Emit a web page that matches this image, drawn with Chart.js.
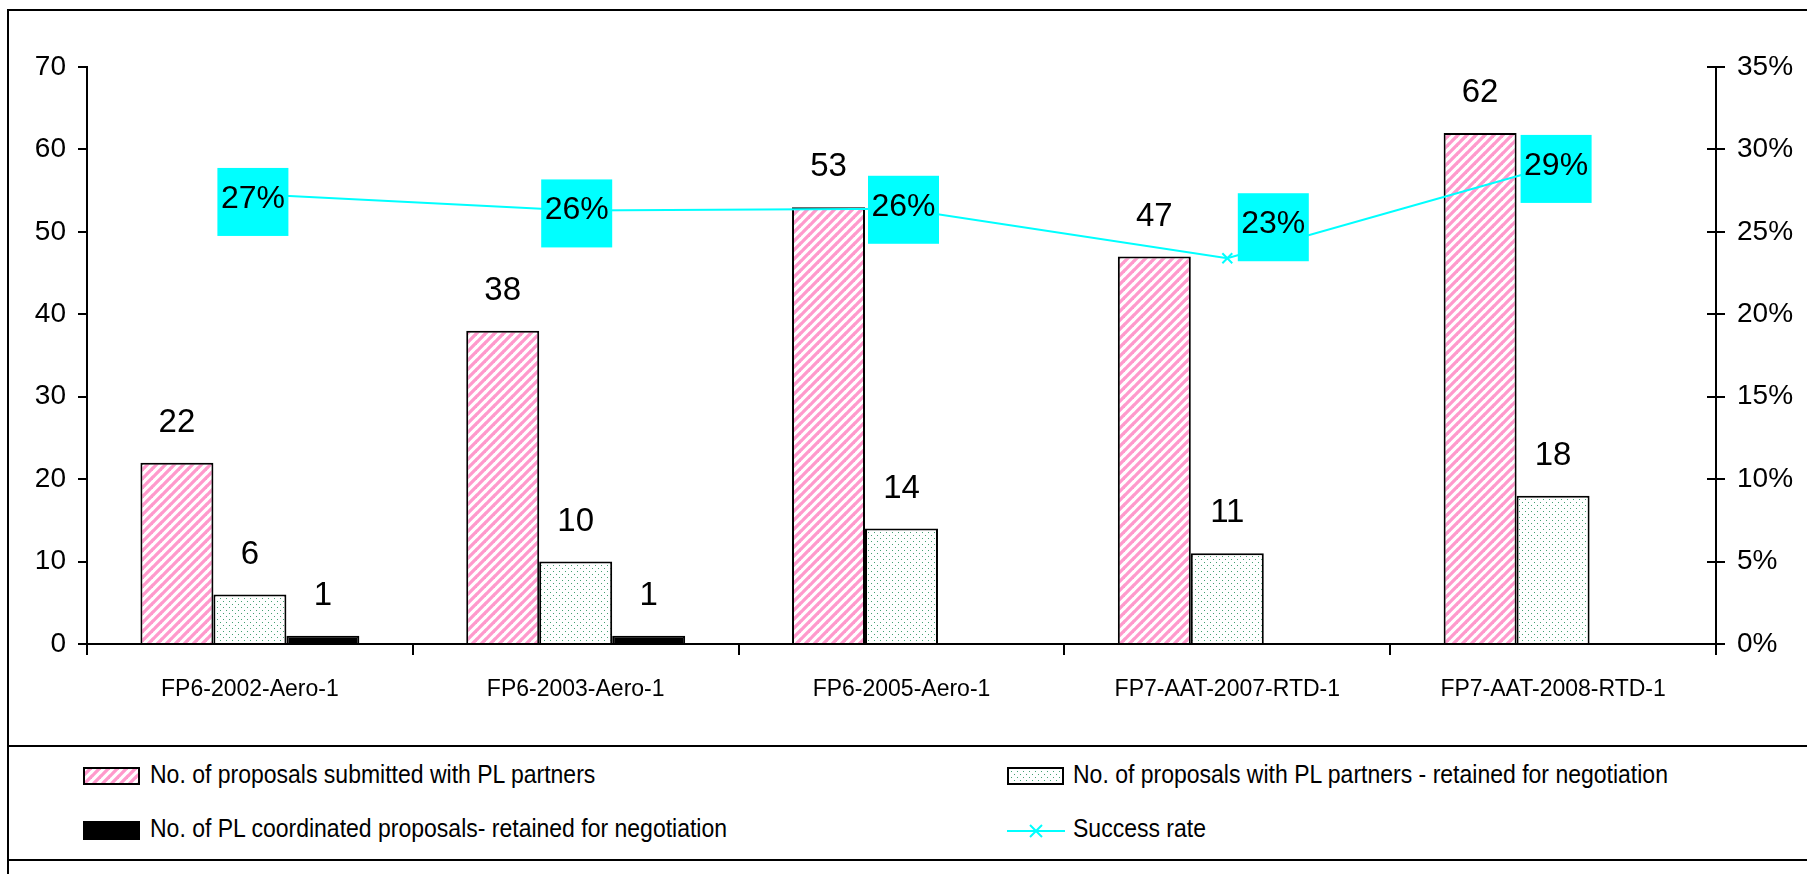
<!DOCTYPE html>
<html>
<head>
<meta charset="utf-8">
<script src="https://cdn.jsdelivr.net/npm/chart.js@4.4.1/dist/chart.umd.min.js"></script>
<style>
  body { margin: 0; background: #fff; font-family: "Liberation Sans", Arial, sans-serif; }
  #wrap { position: relative; width: 1807px; height: 874px; overflow: hidden; }
  #chart { position: absolute; left: 0; top: 0; }
  .rule { position: absolute; background: #000; }
  .swatch { position: absolute; }
  .txt { position: absolute; font-size: 25px; line-height: 28px; color: #000; white-space: nowrap;
         transform: scaleX(0.92); transform-origin: left center; }
</style>
</head>
<body>
<div id="wrap">
  <canvas id="chart" width="1807" height="746"></canvas>

  <div class="rule" style="left:7px; top:9px; width:2px; height:865px;"></div>
  <div class="rule" style="left:7px; top:9px; width:1800px; height:2px;"></div>
  <div class="rule" style="left:7px; top:745px; width:1800px; height:2px;"></div>
  <div class="rule" style="left:7px; top:859px; width:1800px; height:2px;"></div>

  <canvas class="swatch" id="sw0" width="57" height="18" style="left:83px; top:767px;"></canvas>
  <div class="txt" id="lg0" style="left:150px; top:760px;"></div>
  <canvas class="swatch" id="sw1" width="57" height="18" style="left:1007px; top:767px;"></canvas>
  <div class="txt" id="lg1" style="left:1073px; top:760px;"></div>
  <canvas class="swatch" id="sw2" width="57" height="19" style="left:83px; top:821px;"></canvas>
  <div class="txt" id="lg2" style="left:150px; top:814px;"></div>
  <canvas class="swatch" id="sw3" width="58" height="18" style="left:1007px; top:822px;"></canvas>
  <div class="txt" id="lg3" style="left:1073px; top:814px;"></div>
</div>

<script>
// Data
const categories = ['FP6-2002-Aero-1', 'FP6-2003-Aero-1', 'FP6-2005-Aero-1', 'FP7-AAT-2007-RTD-1', 'FP7-AAT-2008-RTD-1'];
const submitted = [22, 38, 53, 47, 62];
const retained = [6, 10, 14, 11, 18];
const coordinated = [1, 1, null, null, null];
const successRate = [27.3, 26.3, 26.4, 23.4, 29.0];
const seriesNames = [
    'No. of proposals submitted with PL partners',
    'No. of proposals with PL partners - retained for negotiation',
    'No. of PL coordinated proposals- retained for negotiation',
    'Success rate'
];

const FONT = '"Liberation Sans", Arial, sans-serif';
const CYAN = '#00ffff';

function stripePattern(ctx) {
    const c = document.createElement('canvas');
    c.width = 9; c.height = 9;
    const g = c.getContext('2d');
    g.fillStyle = '#fff';
    g.fillRect(0, 0, 9, 9);
    g.strokeStyle = '#ff99cc';
    g.lineWidth = 3.3;
    for (const o of [-9, 0, 9]) {
        g.beginPath();
        g.moveTo(o - 1, 10);
        g.lineTo(o + 10, -1);
        g.stroke();
    }
    return ctx.createPattern(c, 'repeat');
}

function dotPattern(ctx) {
    const c = document.createElement('canvas');
    c.width = 6; c.height = 6;
    const g = c.getContext('2d');
    g.fillStyle = '#fff';
    g.fillRect(0, 0, 6, 6);
    g.fillStyle = '#45a173';
    g.fillRect(1, 1, 1, 1);
    g.fillRect(4, 4, 1, 1);
    return ctx.createPattern(c, 'repeat');
}

const chartCanvas = document.getElementById('chart');
const mainCtx = chartCanvas.getContext('2d');
const stripes = stripePattern(mainCtx);
const dots = dotPattern(mainCtx);

// label nudges for the cyan boxes (the 2007 one sits off to the side)
const boxShift = [[3, 8], [1, 3], [2, 1], [46, -31], [3, 3]];

const labelPlugin = {
    id: 'valueLabels',
    afterDatasetsDraw(chart) {
        const ctx = chart.ctx;
        ctx.save();
        ctx.textAlign = 'center';
        ctx.textBaseline = 'middle';
        ctx.font = '33px ' + FONT;
        ctx.fillStyle = '#000';
        [0, 1, 2].forEach(di => {
            chart.getDatasetMeta(di).data.forEach((bar, i) => {
                const v = chart.data.datasets[di].data[i];
                if (v == null) return;
                ctx.fillText(String(v), bar.x, bar.y - 40);
            });
        });
        ctx.font = '32px ' + FONT;
        chart.getDatasetMeta(3).data.forEach((pt, i) => {
            const cx = pt.x + boxShift[i][0], cy = pt.y + boxShift[i][1];
            ctx.fillStyle = CYAN;
            ctx.fillRect(cx - 35.5, cy - 34, 71, 68);
            ctx.fillStyle = '#000';
            ctx.fillText(Math.round(successRate[i]) + '%', cx, cy - 3);
        });
        ctx.restore();
    },
    afterDraw(chart) {
        // right axis ticks cross the axis line
        const s = chart.scales.y1;
        const ctx = chart.ctx;
        ctx.save();
        ctx.strokeStyle = '#000';
        ctx.lineWidth = 2;
        s.ticks.forEach(t => {
            const y = Math.round(s.getPixelForValue(t.value));
            ctx.beginPath();
            ctx.moveTo(s.left - 9, y);
            ctx.lineTo(s.left, y);
            ctx.stroke();
        });
        ctx.restore();
    }
};

const axisGrid = { drawOnChartArea: false, tickLength: 9, color: '#000', lineWidth: 2 };

new Chart(chartCanvas, {
    type: 'bar',
    data: {
        labels: categories,
        datasets: [
            { label: seriesNames[0], data: submitted, backgroundColor: stripes, borderColor: '#000', borderWidth: 2, yAxisID: 'y', order: 1 },
            { label: seriesNames[1], data: retained, backgroundColor: dots, borderColor: '#000', borderWidth: 2, yAxisID: 'y', order: 1 },
            { label: seriesNames[2], data: coordinated, backgroundColor: '#000', borderColor: '#000', borderWidth: 2, yAxisID: 'y', order: 1 },
            {
                type: 'line', label: seriesNames[3], data: successRate, yAxisID: 'y1', order: 0,
                borderColor: CYAN, borderWidth: 2, tension: 0, fill: false,
                pointStyle: 'crossRot', pointRadius: 7, pointBorderColor: CYAN, pointBorderWidth: 2, pointBackgroundColor: CYAN
            }
        ]
    },
    options: {
        responsive: false,
        animation: false,
        layout: { padding: { top: 67, left: 0, right: 0, bottom: 0 } },
        datasets: { bar: { categoryPercentage: 0.672, barPercentage: 1 } },
        plugins: { legend: { display: false }, tooltip: { enabled: false } },
        scales: {
            x: {
                grid: { offset: true, drawOnChartArea: false, tickLength: 11, color: '#000', lineWidth: 2 },
                border: { color: '#000', width: 2 },
                ticks: { color: '#000', font: { size: 23, family: FONT }, padding: 21, maxRotation: 0 },
                afterFit: s => { s.height = 102; }
            },
            y: {
                position: 'left', min: 0, max: 70,
                ticks: { stepSize: 10, color: '#000', font: { size: 28, family: FONT }, padding: 12 },
                grid: axisGrid,
                border: { color: '#000', width: 2 },
                afterFit: s => { s.width = 87; }
            },
            y1: {
                position: 'right', min: 0, max: 35,
                ticks: { stepSize: 5, color: '#000', font: { size: 28, family: FONT }, padding: 12, callback: v => v + '%' },
                grid: axisGrid,
                border: { color: '#000', width: 2 },
                afterFit: s => { s.width = 91; }
            }
        }
    },
    plugins: [labelPlugin]
});

// legend
function drawSwatch(id, kind) {
    const c = document.getElementById(id);
    const g = c.getContext('2d');
    const w = c.width, h = c.height;
    if (kind === 'line') {
        g.strokeStyle = CYAN;
        g.lineWidth = 2;
        g.beginPath(); g.moveTo(0, 9); g.lineTo(w, 9); g.stroke();
        const cx = 29;
        g.beginPath();
        g.moveTo(cx - 6, 3); g.lineTo(cx + 6, 15);
        g.moveTo(cx + 6, 3); g.lineTo(cx - 6, 15);
        g.stroke();
        return;
    }
    g.fillStyle = kind === 'stripes' ? stripePattern(g) : kind === 'dots' ? dotPattern(g) : '#000';
    g.fillRect(0, 0, w, h);
    g.strokeStyle = '#000';
    g.lineWidth = 2;
    g.strokeRect(1, 1, w - 2, h - 2);
}
drawSwatch('sw0', 'stripes');
drawSwatch('sw1', 'dots');
drawSwatch('sw2', 'solid');
drawSwatch('sw3', 'line');
seriesNames.forEach((n, i) => { document.getElementById('lg' + i).textContent = n; });
</script>
</body>
</html>
